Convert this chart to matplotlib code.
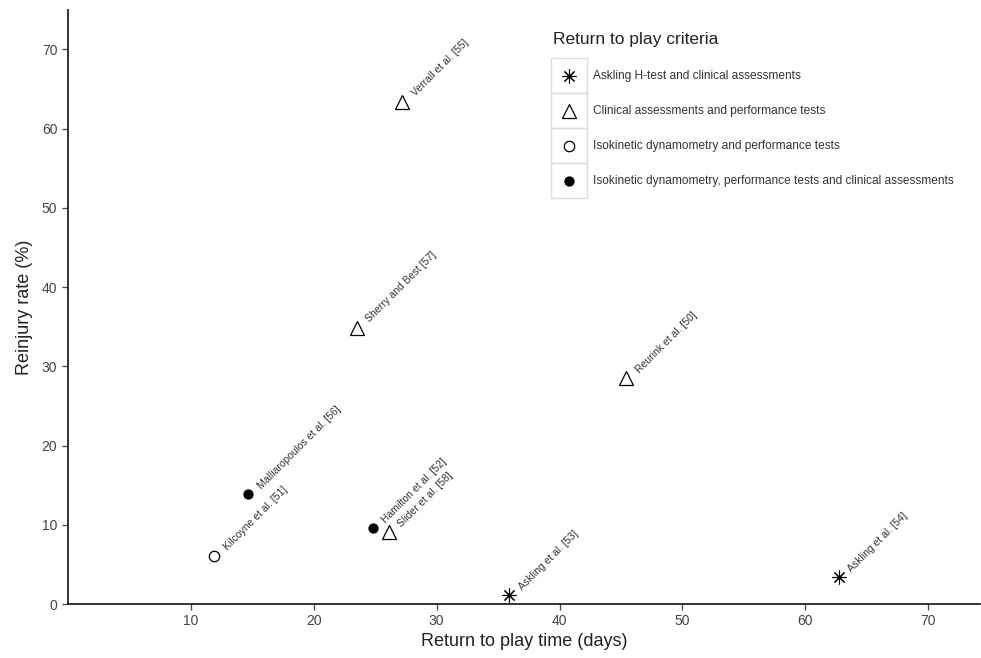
import numpy as np
import matplotlib
matplotlib.use('Agg')
import matplotlib.pyplot as plt
from matplotlib.patches import Rectangle

plt.rcParams['font.family'] = ['Liberation Sans', 'DejaVu Sans']

# data
studies = ['Verrall et al. [55]', 'Sherry and Best [57]', 'Reurink et al. [50]',
           'Malliaropoulos et al. [56]', 'Kilcoyne et al. [51]', 'Hamilton et al. [52]',
           'Slider et al. [58]', 'Askling et al. [53]', 'Askling et al. [54]']
rtp_days = [27.2, 23.5, 45.4, 14.7, 11.9, 24.8, 26.1, 35.9, 62.7]
reinjury = [63.4, 34.9, 28.5, 13.9, 6.1, 9.6, 9.1, 1.1, 3.4]
criteria = ['Clinical assessments and performance tests',
            'Clinical assessments and performance tests',
            'Clinical assessments and performance tests',
            'Isokinetic dynamometry, performance tests and clinical assessments',
            'Isokinetic dynamometry and performance tests',
            'Isokinetic dynamometry, performance tests and clinical assessments',
            'Clinical assessments and performance tests',
            'Askling H-test and clinical assessments',
            'Askling H-test and clinical assessments']

criteria_order = ['Askling H-test and clinical assessments',
                  'Clinical assessments and performance tests',
                  'Isokinetic dynamometry and performance tests',
                  'Isokinetic dynamometry, performance tests and clinical assessments']

# marker styles per criterion
styles = {
    criteria_order[0]: dict(marker=(8, 2, 0), ms=10, mfc='black', mec='black', mew=0.8),
    criteria_order[1]: dict(marker='^', ms=10, mfc='white', mec='black', mew=0.9),
    criteria_order[2]: dict(marker='o', ms=7.5, mfc='white', mec='black', mew=0.9),
    criteria_order[3]: dict(marker='o', ms=6.5, mfc='black', mec='black', mew=0.9),
}

fig, ax = plt.subplots(figsize=(9.81, 6.58), dpi=100)
fig.subplots_adjust(left=0.069, right=0.999, top=0.985, bottom=0.082)

for x, y, c, name in zip(rtp_days, reinjury, criteria, studies):
    ax.plot([x], [y], ls='none', clip_on=False, zorder=3, **styles[c])
    ax.annotate(name, (x, y), xytext=(8, 5), textcoords='offset points',
                rotation=45, rotation_mode='anchor', ha='left', va='center',
                fontsize=7.5, color='#333333')

ax.set_xlim(0, 74.2)
ax.set_ylim(0, 75)
ax.set_xticks([10, 20, 30, 40, 50, 60, 70])
ax.set_yticks([0, 10, 20, 30, 40, 50, 60, 70])
ax.set_xlabel('Return to play time (days)', fontsize=13, color='#222222', labelpad=3)
ax.set_ylabel('Reinjury rate (%)', fontsize=13, color='#222222', labelpad=6)
ax.tick_params(length=4, width=0.9, colors='#444444', labelsize=10, labelcolor='#444444')
for s in ['top', 'right']:
    ax.spines[s].set_visible(False)
for s in ['left', 'bottom']:
    ax.spines[s].set_linewidth(1.3)
    ax.spines[s].set_color('#222222')

# legend drawn ggplot-style with boxed keys
ax.text(0.532, 0.937, 'Return to play criteria', transform=ax.transAxes,
        fontsize=12.5, color='#222222', ha='left', va='bottom')
row_tops = [0.919, 0.860, 0.801, 0.742]
row_h = 0.059
for top, c in zip(row_tops, criteria_order):
    ax.add_patch(Rectangle((0.530, top - row_h), 0.039, row_h, transform=ax.transAxes,
                           fill=False, edgecolor='#dddddd', lw=1.0, clip_on=False))
    ax.plot([0.5495], [top - row_h / 2], transform=ax.transAxes, ls='none',
            clip_on=False, **styles[c])
    ax.text(0.576, top - row_h / 2, c, transform=ax.transAxes, fontsize=8.6,
            color='#333333', ha='left', va='center')

plt.savefig('out.png', dpi=100)
